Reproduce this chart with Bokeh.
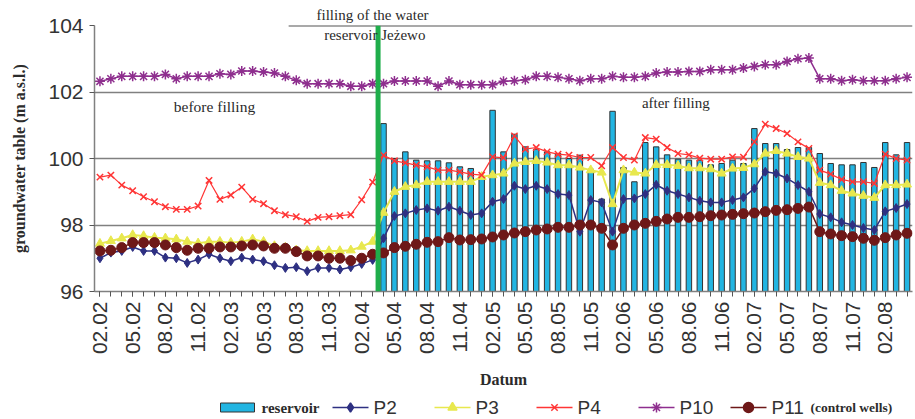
import math
from bokeh.plotting import figure
from bokeh.layouts import column
from bokeh.models import (ColumnDataSource, FixedTicker, Label, Span, Range1d)
from bokeh.core.properties import value
from bokeh.embed import file_html
from bokeh.resources import INLINE

# ---------------- data ----------------
months = [f"{m:02d}.{y:02d}" for y in range(2, 9) for m in range(1, 13)][1:76]  # 02.02 .. 04.08

tick_labels = ["02.02", "05.02", "08.02", "11.02", "02.03", "05.03", "08.03", "11.03",
               "02.04", "05.04", "08.04", "11.04", "02.05", "05.05", "08.05", "11.05",
               "02.06", "05.06", "08.06", "11.06", "02.07", "05.07", "08.07", "11.07", "02.08"]

reservoir = [float("nan")] * 26 + [
    101.05, 100.0, 100.2, 99.95, 99.93, 99.93, 99.87, 99.75, 99.7, 99.45, 101.45, 100.2,
    100.73, 100.35, 100.28, 100.2, 100.15, 100.0, 100.1, 99.68, 98.78, 101.42, 99.73, 99.3,
    100.48, 100.35, 100.11, 99.98, 99.95, 99.95, 99.81, 99.85, 99.95, 99.85, 100.9, 100.45,
    100.45, 100.27, 100.33, 100.33, 100.15, 99.85, 99.81, 99.81, 99.88, 99.73, 100.48, 100.11, 100.48]

p2 = [97.0, 97.17, 97.22, 97.34, 97.22, 97.22, 97.02, 97.0, 96.86, 96.96, 97.12, 97.0, 96.91,
      97.02, 96.96, 96.91, 96.79, 96.71, 96.73, 96.61, 96.71, 96.71, 96.66, 96.73, 96.83, 96.95,
      97.6, 98.27, 98.35, 98.45, 98.5, 98.43, 98.55,
      98.43, 98.3, 98.35, 98.7,
      98.78, 99.18, 99.08, 99.18, 99.08, 98.93, 98.9, 97.8, 98.75, 98.68, 97.8, 98.78, 98.8,
      98.93, 99.21, 99.03, 98.93, 98.83, 98.73, 98.68, 98.68, 98.75, 98.83, 99.1, 99.6,
      99.55, 99.4, 99.2, 99.0, 98.33, 98.23, 98.08, 98.0, 97.91, 97.85, 98.41, 98.51, 98.63]

p3 = [97.44, 97.52, 97.6, 97.7, 97.67, 97.62, 97.6, 97.57, 97.5, 97.45, 97.5, 97.5, 97.47,
      97.5, 97.57, 97.5, 97.37, 97.32, 97.24, 97.22, 97.22, 97.22, 97.22, 97.24, 97.35, 97.5,
      98.37, 99.0, 99.15, 99.2, 99.3, 99.3, 99.3, 99.3, 99.3, 99.45, 99.5,
      99.55, 99.85, 99.9, 99.93, 99.88, 99.8, 99.8, 99.73, 99.65, 99.58, 98.63, 99.65, 99.58,
      99.55, 99.81, 99.81, 99.78, 99.71, 99.71, 99.68, 99.55, 99.7, 99.72, 99.83, 100.15,
      100.23, 100.15, 100.05, 100.0, 99.27, 99.2, 99.03, 98.95, 98.88, 98.82, 99.2, 99.2, 99.22]

p4 = [99.44, 99.5, 99.2, 99.03, 98.85, 98.7, 98.55, 98.47, 98.47, 98.57, 99.34, 98.77, 98.9,
      99.14, 98.77, 98.64, 98.43, 98.31, 98.25, 98.11, 98.23, 98.25, 98.28, 98.31, 98.76, 99.29,
      100.1, 99.93, 99.87, 99.8, 99.75, 99.65, 99.65, 99.6, 99.53, 99.5, 100.05,
      100.02, 100.68, 100.28, 100.33, 100.2, 100.13, 100.1, 100.03, 100.03, 99.78, 100.33, 100.03, 99.95,
      100.63, 100.58, 100.33, 100.15, 100.11, 100.01, 99.98, 99.98, 100.05, 100.04, 100.5, 101.03,
      100.9, 100.75, 100.5, 100.3, 99.65, 99.53, 99.37, 99.3, 99.3, 99.25, 100.13, 100.0, 99.95]

p10 = [102.32, 102.4, 102.47, 102.47, 102.47, 102.47, 102.53, 102.4, 102.47, 102.47, 102.47,
       102.55, 102.53, 102.63, 102.63, 102.6, 102.57, 102.47, 102.35, 102.25, 102.25, 102.25,
       102.25, 102.17, 102.17, 102.25, 102.25, 102.33, 102.33, 102.33, 102.33, 102.17, 102.33,
       102.22, 102.22, 102.22, 102.22, 102.32, 102.34, 102.37, 102.47, 102.47, 102.44, 102.4,
       102.34, 102.4, 102.4, 102.47, 102.44, 102.44, 102.47, 102.57, 102.6, 102.6, 102.62,
       102.62, 102.67, 102.67, 102.67, 102.72, 102.77, 102.82, 102.82, 102.92, 103.0, 103.02,
       102.4, 102.4, 102.34, 102.37, 102.34, 102.34, 102.34, 102.4, 102.44]

p11 = [97.22, 97.24, 97.32, 97.47, 97.47, 97.47, 97.4, 97.32, 97.24, 97.3, 97.3, 97.34, 97.34,
       97.37, 97.4, 97.37, 97.3, 97.3, 97.2, 97.07, 97.07, 97.0, 97.0, 96.93, 97.0, 97.12, 97.16,
       97.32, 97.36, 97.42, 97.48, 97.5, 97.62,
       97.55, 97.56, 97.58, 97.64, 97.7, 97.76, 97.8, 97.85, 97.88, 97.93, 97.93, 98.0, 98.0,
       97.9, 97.4, 97.9, 98.0, 98.05, 98.11, 98.18, 98.23, 98.23, 98.25, 98.28, 98.3, 98.32,
       98.34, 98.36, 98.4, 98.44, 98.46, 98.5, 98.54,
       97.8, 97.73, 97.68, 97.65, 97.6, 97.54, 97.62, 97.7, 97.75]

filling_month = 25.5  # reservoir filling between 03.04 and 04.04

# ---------------- styles ----------------
C_RES, C2, C3, C4, C10, C11 = "#22B5E2", "#2E3082", "#E8E84E", "#FF3535", "#8E2E8E", "#6E1818"
TXT = "#2b2b2b"
SERIF, SANS = "Liberation Serif", "Liberation Sans"
FRAME_L, FRAME_R = 94, 912  # page pixels of the plot frame

# ---------------- main figure ----------------
xs = list(range(len(months)))
src = ColumnDataSource(dict(x=xs, res=reservoir, p2=p2, p3=p3, p4=p4, p10=p10, p11=p11))

p = figure(width=915, height=395, output_backend="svg", toolbar_location=None,
           x_range=Range1d(-0.5, len(months) - 0.5), y_range=Range1d(96, 104),
           min_border_left=FRAME_L, min_border_right=915 - FRAME_R, min_border_top=25,
           min_border_bottom=104, title="filling of the water")
p.outline_line_color = None
p.title.text_font = SERIF
p.title.text_font_size = "15px"
p.title.text_font_style = "normal"
p.title.text_color = TXT
p.title.align = "left"
p.title.offset = 222
p.title.standoff = 6

# axes
p.yaxis.ticker = FixedTicker(ticks=[96, 98, 100, 102, 104])
p.yaxis.major_label_text_font = SANS
p.yaxis.major_label_text_font_size = "21px"
p.yaxis.major_label_text_color = "#333333"
p.yaxis.major_tick_out = 5
p.yaxis.major_tick_in = 0
p.yaxis.major_tick_line_color = "#555555"
p.yaxis.minor_tick_line_color = None
p.yaxis.axis_line_color = "#808080"
p.yaxis.axis_line_width = 1.5
p.yaxis.major_label_standoff = 6
p.yaxis.axis_label = "groundwater table (m a.s.l.)"
p.yaxis.axis_label_text_font = SERIF
p.yaxis.axis_label_text_font_style = "bold"
p.yaxis.axis_label_text_font_size = "16px"
p.yaxis.axis_label_text_color = TXT
p.yaxis.axis_label_standoff = 17

p.xaxis.ticker = FixedTicker(ticks=list(range(0, len(months), 3)), minor_ticks=xs)
p.xaxis.major_label_overrides = {i * 3: lab for i, lab in enumerate(tick_labels)}
p.xaxis.major_label_orientation = math.pi / 2
p.xaxis.major_label_text_font = SANS
p.xaxis.major_label_text_font_size = "21px"
p.xaxis.major_label_text_color = "#333333"
p.xaxis.major_tick_out = 5
p.xaxis.major_tick_in = 0
p.xaxis.minor_tick_out = 5
p.xaxis.minor_tick_in = 0
p.xaxis.major_tick_line_color = "#555555"
p.xaxis.minor_tick_line_color = "#555555"
p.xaxis.axis_line_color = "#808080"
p.xaxis.axis_line_width = 1.5
p.xaxis.major_label_standoff = 5
p.xaxis.axis_label = "Datum"
p.xaxis.axis_label_text_font = SERIF
p.xaxis.axis_label_text_font_style = "bold"
p.xaxis.axis_label_text_font_size = "16px"
p.xaxis.axis_label_text_color = TXT
p.xaxis.axis_label_standoff = 14

p.xgrid.grid_line_color = None
p.ygrid.ticker = FixedTicker(ticks=[96, 98, 100, 102, 104])
p.ygrid.grid_line_color = "#808080"
p.ygrid.grid_line_width = 1.5

# top frame segment of the annotation box
p.segment(x0=[17.3], y0=[104], x1=[len(months) - 0.5], y1=[104], line_color="#555555", line_width=2)

# bars
p.vbar(x="x", top="res", bottom=96, width=0.5, fill_color=C_RES,
       line_color="#333333", line_width=1, source=src)

# filling event line
p.add_layout(Span(location=filling_month, dimension="height", line_color="#1FAE4B", line_width=5))

def series(col, color, marker, size, lw, mlw=1):
    p.line("x", col, line_color=color, line_width=lw, source=src)
    p.scatter("x", col, marker=marker, size=size, fill_color=color, line_color=color,
              line_width=mlw, source=src)

series("p2", C2, "diamond", 9, 1.5)
series("p3", C3, "triangle", 9, 2)
series("p4", C4, "x", 9, 1.2, 1.5)
series("p10", C10, "asterisk", 10, 1.5, 1.5)
series("p11", C11, "circle", 10, 1.5)

# texts inside the plot area
for txt, xx, yy, fs in [("reservoir Jeżewo", 25.2, 103.7, "15px"),
                        ("before filling", 10.5, 101.56, "15.5px"),
                        ("after filling", 52.8, 101.68, "15px")]:
    p.add_layout(Label(x=xx, y=yy, text=txt, text_align="center", text_baseline="middle",
                       text_font=SERIF, text_font_size=fs, text_color=TXT))

# ---------------- legend strip (frame aligned with the main frame, page-pixel units) ----------------
lg = figure(width=915, height=24, output_backend="svg", toolbar_location=None,
            x_range=Range1d(FRAME_L, FRAME_R), y_range=Range1d(0, 24),
            x_axis_type=None, y_axis_type=None,
            min_border_left=FRAME_L, min_border_right=915 - FRAME_R, min_border_top=0,
            min_border_bottom=0)
lg.outline_line_color = None
lg.grid.grid_line_color = None

lg.quad(left=[220], right=[254], bottom=[7.5], top=[16.5], fill_color=C_RES,
        line_color="#333333", line_width=1)
lg.text(x=[261], y=[12], text=["reservoir"], text_font=value(SERIF), text_font_style="bold",
        text_font_size="15px", text_color=TXT, text_baseline="middle", text_align="left")

entries = [("P2", C2, "diamond", 9, 332), ("P3", C3, "triangle", 9, 434), ("P4", C4, "x", 9, 536),
           ("P10", C10, "asterisk", 10, 638), ("P11", C11, "circle", 10, 730)]
for name, col, mk, sz, x0 in entries:
    lg.line([x0, x0 + 36], [12, 12], line_color=col, line_width=1.5)
    lg.scatter([x0 + 18], [12], marker=mk, size=sz, fill_color=col, line_color=col, line_width=1.5)
    lg.text(x=[x0 + 41], y=[12], text=[name], text_font=value(SANS), text_font_size="19px",
            text_color="#333333", text_baseline="middle", text_align="left")
lg.text(x=[810], y=[12], text=["(control wells)"], text_font=value(SERIF), text_font_style="bold",
        text_font_size="13.5px", text_color=TXT, text_baseline="middle", text_align="left")

layout = column(p, lg, spacing=0)
open("out.html", "w").write(file_html(layout, INLINE))
